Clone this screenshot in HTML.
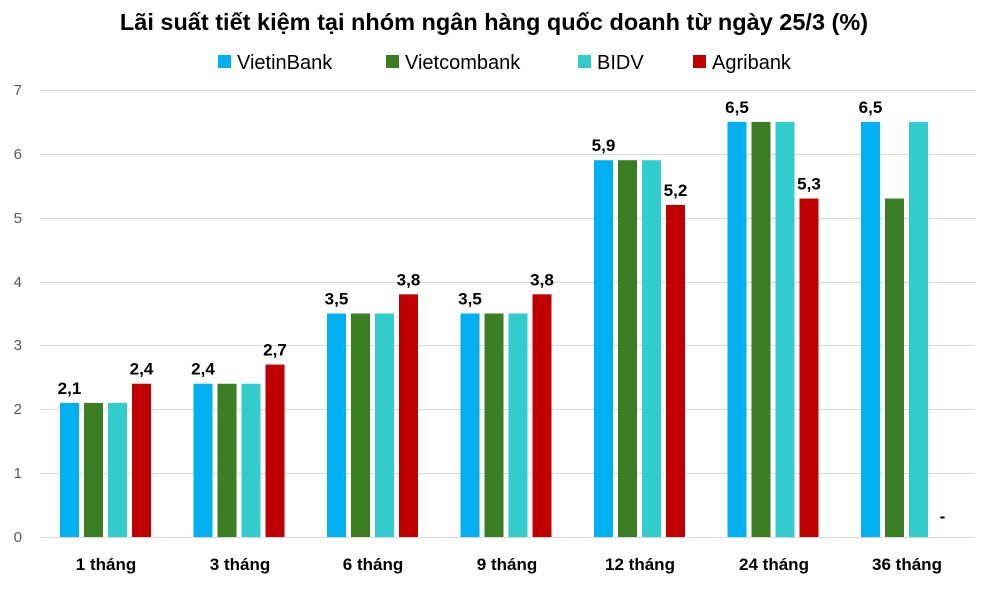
<!DOCTYPE html>
<html><head><meta charset="utf-8"><style>
body{margin:0;background:#fff;}
svg text{font-family:"Liberation Sans",Arial,sans-serif;}
</style></head><body>
<svg width="989" height="587" viewBox="0 0 989 587" xmlns="http://www.w3.org/2000/svg">
<rect width="989" height="587" fill="#fff"/>
<text x="494" y="30" text-anchor="middle" font-size="23.5" font-weight="bold" fill="#000">Lãi suất tiết kiệm tại nhóm ngân hàng quốc doanh từ ngày 25/3 (%)</text>
<g font-size="20" fill="#000">
<rect x="218" y="55" width="13" height="13" fill="#00B0F0"/><text x="237" y="69">VietinBank</text>
<rect x="386" y="55" width="13" height="13" fill="#3A7D22"/><text x="405" y="69">Vietcombank</text>
<rect x="578" y="55" width="13" height="13" fill="#33CCCC"/><text x="597" y="69">BIDV</text>
<rect x="693" y="55" width="13" height="13" fill="#C00000"/><text x="712" y="69">Agribank</text>
</g>
<g stroke="#d9d9d9" stroke-width="1">
<line x1="40" x2="975" y1="90.5" y2="90.5"/><line x1="40" x2="975" y1="154.5" y2="154.5"/>
<line x1="40" x2="975" y1="218.5" y2="218.5"/><line x1="40" x2="975" y1="282.5" y2="282.5"/>
<line x1="40" x2="975" y1="345.5" y2="345.5"/><line x1="40" x2="975" y1="409.5" y2="409.5"/>
<line x1="40" x2="975" y1="473.5" y2="473.5"/><line x1="40" x2="975" y1="537.5" y2="537.5"/>
</g>
<g font-size="15" fill="#595959" text-anchor="end">
<text x="22" y="95">7</text><text x="22" y="159">6</text><text x="22" y="223">5</text><text x="22" y="287">4</text>
<text x="22" y="350">3</text><text x="22" y="414">2</text><text x="22" y="478">1</text><text x="22" y="542">0</text>
</g>
<g id="bars"></g>
<g id="labels" font-size="17" font-weight="bold" text-anchor="middle" fill="#000"></g>
<g font-size="17" font-weight="bold" text-anchor="middle" fill="#000">
<text x="106" y="570">1 tháng</text><text x="240" y="570">3 tháng</text><text x="373" y="570">6 tháng</text>
<text x="507" y="570">9 tháng</text><text x="640" y="570">12 tháng</text><text x="774" y="570">24 tháng</text>
<text x="907" y="570">36 tháng</text>
</g>
<script>
var d=[[2.1,2.1,2.1,2.4],[2.4,2.4,2.4,2.7],[3.5,3.5,3.5,3.8],[3.5,3.5,3.5,3.8],[5.9,5.9,5.9,5.2],[6.5,6.5,6.5,5.3],[6.5,5.3,6.5,null]];
var c=["#00B0F0","#3A7D22","#33CCCC","#C00000"];
var ns="http://www.w3.org/2000/svg",b=document.getElementById("bars"),l=document.getElementById("labels");
d.forEach(function(g,i){var cx=106+i*133.5;g.forEach(function(v,j){var x=cx-46+j*24;
if(v!==null){var h=v*63.86,r=document.createElementNS(ns,"rect");r.setAttribute("x",x);r.setAttribute("y",537-h);r.setAttribute("width",19);r.setAttribute("height",h);r.setAttribute("fill",c[j]);b.appendChild(r);}
if(j==0||j==3){var t=document.createElementNS(ns,"text");t.setAttribute("x",x+9.5);
if(v===null){t.setAttribute("y",522);t.textContent="-";}else{t.setAttribute("y",537-v*63.86-9);t.textContent=v.toFixed(1).replace(".",",");}
l.appendChild(t);}});});
</script>
</svg>
</body></html>
